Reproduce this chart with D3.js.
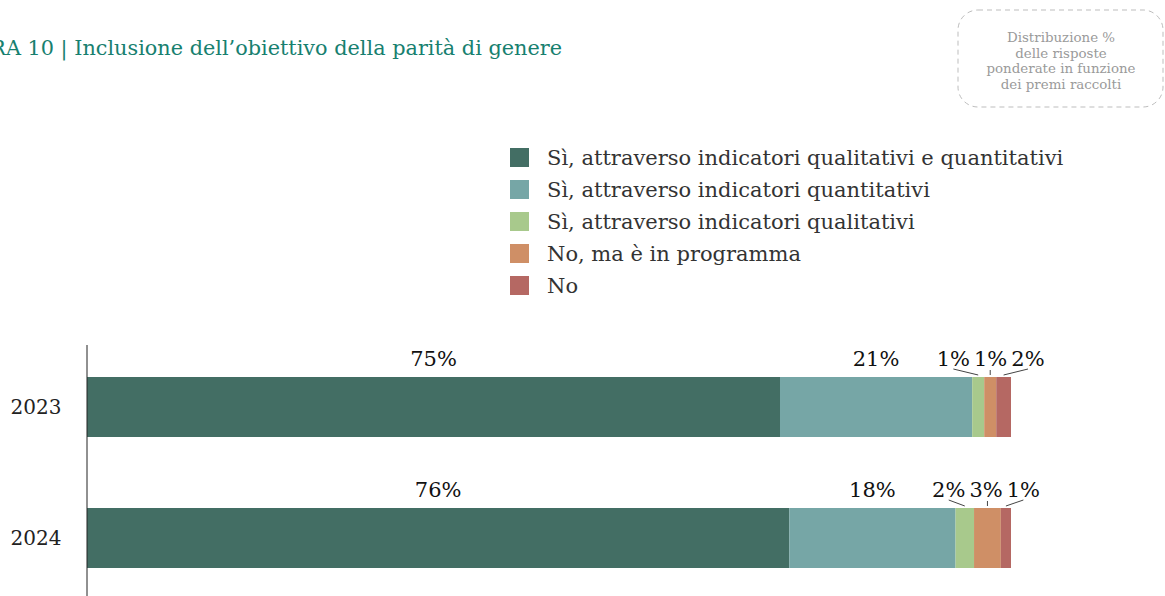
<!DOCTYPE html>
<html lang="it">
<head>
<meta charset="utf-8">
<script src="https://cdn.jsdelivr.net/npm/d3@7"></script>
<style>
  html, body { margin: 0; padding: 0; background: #fff; overflow: hidden; }
  svg { display: block; font-family: "DejaVu Serif", "Liberation Serif", serif; }
</style>
</head>
<body>
<svg id="chart" width="1165" height="596"></svg>
<script>
// Anni (righe del grafico)
const years = ["2023", "2024"];

// Categorie di risposta, nell'ordine di impilamento
const categories = [
  "Sì, attraverso indicatori qualitativi e quantitativi",
  "Sì, attraverso indicatori quantitativi",
  "Sì, attraverso indicatori qualitativi",
  "No, ma è in programma",
  "No"
];

// Quote percentuali per anno, una per categoria
const values2023 = [75.0, 20.8, 1.3, 1.3, 1.6];
const values2024 = [76.0, 18.0, 2.0, 2.9, 1.1];

const colors = ["#436e64", "#76a6a6", "#a8c98c", "#cf8f66", "#b56863"];

const title = "FIGURA 10 | Inclusione dell’obiettivo della parità di genere";
const noteLines = ["Distribuzione %", "delle risposte", "ponderate in funzione", "dei premi raccolti"];

const svg = d3.select("#chart");

// Titolo
svg.append("text")
  .attr("x", 562).attr("y", 55)
  .attr("text-anchor", "end")
  .attr("fill", "#17806f")
  .attr("font-size", 20.8)
  .text(title);

// Riquadro nota tratteggiato
const note = svg.append("g");
note.append("rect")
  .attr("x", 958).attr("y", 10).attr("width", 205).attr("height", 97)
  .attr("rx", 20).attr("ry", 20)
  .attr("fill", "none").attr("stroke", "#bdbdbd")
  .attr("stroke-width", 1).attr("stroke-dasharray", "5,4");
note.selectAll("text").data(noteLines).join("text")
  .attr("x", 1061).attr("y", (d, i) => 42 + i * 15.5)
  .attr("text-anchor", "middle")
  .attr("fill", "#9a9a9a").attr("font-size", 13.4)
  .text(d => d);

// Legenda
const legend = svg.append("g").attr("transform", "translate(510,148)");
const li = legend.selectAll("g").data(categories).join("g")
  .attr("transform", (d, i) => `translate(0,${i * 32})`);
li.append("rect").attr("width", 19).attr("height", 19).attr("fill", (d, i) => colors[i]);
li.append("text").attr("x", 37).attr("y", 17)
  .attr("fill", "#333").attr("font-size", 21)
  .text(d => d);

// Scale
const x = d3.scaleLinear().domain([0, 100]).range([87, 1011]);
const y = d3.scaleBand().domain(years).range([306, 639]).paddingInner(0.542).paddingOuter(0.542);

const rows = years.map((yr, i) => {
  const vals = [values2023, values2024][i];
  let acc = 0;
  return {
    year: yr,
    segs: vals.map((v, k) => { const s = { k, v, x0: acc, x1: acc + v }; acc += v; return s; })
  };
});

// Barre impilate
const bars = svg.append("g");
rows.forEach(r => {
  bars.selectAll(null).data(r.segs).join("rect")
    .attr("x", d => x(d.x0))
    .attr("y", y(r.year))
    .attr("width", d => x(d.x1) - x(d.x0))
    .attr("height", y.bandwidth())
    .attr("fill", d => colors[d.k]);
});

// Asse verticale ed etichette degli anni
svg.append("line")
  .attr("x1", 87).attr("x2", 87).attr("y1", 345).attr("y2", 600)
  .attr("stroke", "#222").attr("stroke-width", 1);
svg.append("g").selectAll("text").data(years).join("text")
  .attr("x", 36).attr("y", d => y(d) + y.bandwidth() / 2 + 7)
  .attr("text-anchor", "middle").attr("fill", "#222").attr("font-size", 20)
  .text(d => d);

// Etichette dei valori sopra le barre, distanziate per evitare sovrapposizioni
const fmt = v => Math.round(v) + "%";
const labels = svg.append("g");
rows.forEach(r => {
  const top = y(r.year);
  const items = r.segs.map(s => {
    const t = labels.append("text")
      .attr("y", top - 11)
      .attr("text-anchor", "middle")
      .attr("fill", "#111").attr("font-size", 21)
      .text(fmt(s.v));
    const w = t.node().getComputedTextLength();
    const c = x((s.x0 + s.x1) / 2);
    return { t, w, c, pos: c };
  });
  const gap = 4;
  for (let it = 0; it < 200; it++) {
    let moved = false;
    for (let i = 0; i < items.length - 1; i++) {
      const a = items[i], b = items[i + 1];
      const need = a.w / 2 + b.w / 2 + gap - (b.pos - a.pos);
      if (need > 0.01) { a.pos -= need / 2; b.pos += need / 2; moved = true; }
    }
    if (!moved) break;
  }
  items.forEach(it => {
    it.t.attr("x", it.pos);
    if (Math.abs(it.pos - it.c) > 3 && Math.abs(it.pos - it.c) < 60) {
      labels.append("line")
        .attr("x1", it.pos).attr("y1", top - 8)
        .attr("x2", it.c).attr("y2", top - 2)
        .attr("stroke", "#444").attr("stroke-width", 1);
    } else if (r.segs[items.indexOf(it)].v < 5) {
      labels.append("line")
        .attr("x1", it.c).attr("y1", top - 7)
        .attr("x2", it.c).attr("y2", top - 2)
        .attr("stroke", "#444").attr("stroke-width", 1);
    }
  });
});
</script>
</body>
</html>
